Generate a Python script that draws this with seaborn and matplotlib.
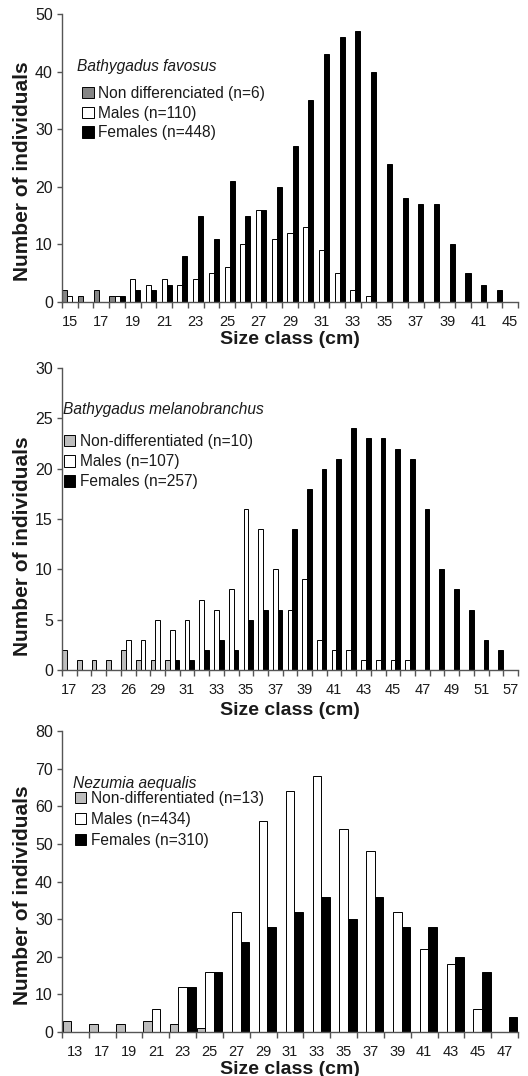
import numpy as np
import pandas as pd
import matplotlib
matplotlib.use("Agg")
import matplotlib.pyplot as plt
from matplotlib.patches import Patch
import seaborn as sns

# ---------------- data ----------------
# Panel 1: Bathygadus favosus
cats1 = [15, 16, 17, 18, 19, 20, 21, 22, 23, 24, 25, 26, 27, 28, 29, 30, 31, 32, 33, 34,
         35, 36, 37, 38, 39, 40, 41, 42, 45]
nd1 = [2, 1, 2, 1, 0, 0, 0, 0, 0, 0, 0, 0, 0, 0, 0, 0, 0, 0, 0, 0, 0, 0, 0, 0, 0, 0, 0, 0, 0]
m1 = [1, 0, 0, 1, 4, 3, 4, 3, 4, 5, 6, 10, 16, 11, 12, 13, 9, 5, 2, 1, 0, 0, 0, 0, 0, 0, 0, 0, 0]
f1 = [0, 0, 0, 1, 2, 2, 3, 8, 15, 11, 21, 15, 16, 20, 27, 35, 43, 46, 47, 40, 24, 18, 17, 17,
      10, 5, 3, 2, 0]
labels1 = ["Non differenciated (n=6)", "Males (n=110)", "Females (n=448)"]
species1 = "Bathygadus favosus"

# Panel 2: Bathygadus melanobranchus
cats2 = [17, 20, 23, 25, 26, 28, 29, 30, 31, 32, 33, 34, 35, 36, 37, 38, 39, 40, 41, 42,
         43, 44, 45, 46, 47, 48, 49, 50, 51, 52, 57]
nd2 = [2, 1, 1, 1, 2, 1, 1, 1, 0, 0, 0, 0, 0, 0, 0, 0, 0, 0, 0, 0, 0, 0, 0, 0, 0, 0, 0, 0, 0, 0, 0]
m2 = [0, 0, 0, 0, 3, 3, 5, 4, 5, 7, 6, 8, 16, 14, 10, 6, 9, 3, 2, 2, 1, 1, 1, 1, 0, 0, 0, 0, 0, 0, 0]
f2 = [0, 0, 0, 0, 0, 0, 0, 1, 1, 2, 3, 2, 5, 6, 6, 14, 18, 20, 21, 24, 23, 23, 22, 21, 16, 10,
      8, 6, 3, 2, 0]
labels2 = ["Non-differentiated (n=10)", "Males (n=107)", "Females (n=257)"]
species2 = "Bathygadus melanobranchus"

# Panel 3: Nezumia aequalis
cats3 = [13, 17, 19, 21, 23, 25, 27, 29, 31, 33, 35, 37, 39, 41, 43, 45, 47]
nd3 = [3, 2, 2, 3, 2, 1, 0, 0, 0, 0, 0, 0, 0, 0, 0, 0, 0]
m3 = [0, 0, 0, 6, 12, 16, 32, 56, 64, 68, 54, 48, 32, 22, 18, 6, 0]
f3 = [0, 0, 0, 0, 12, 16, 24, 28, 32, 36, 30, 36, 28, 28, 20, 16, 4]
labels3 = ["Non-differentiated (n=13)", "Males (n=434)", "Females (n=310)"]
species3 = "Nezumia aequalis"

# ---------------- style ----------------
sns.set_style("ticks")
plt.rcParams['font.family'] = ['Liberation Sans', 'DejaVu Sans']
AX_COL = '#555555'
TXT_COL = '#1a1a1a'

fig = plt.figure(figsize=(5.28, 10.76), dpi=100)
W, H = 528.0, 1076.0


def make_panel(px_top, px_bottom, cats, nd, m, f, labels, species, ymax, ystep,
               nd_color, label_every, species_xy, legend_xy, lspacing, xlabel_y, ylabel_y):
    left, right = 62.0, 518.0
    ax = fig.add_axes([left / W, 1 - px_bottom / H, (right - left) / W, (px_bottom - px_top) / H])
    cat_str = [str(c) for c in cats]
    df = pd.DataFrame({"cat": cat_str, labels[0]: nd, labels[1]: m, labels[2]: f})
    long = df.melt(id_vars="cat", var_name="group", value_name="n")
    long = long[long["n"] > 0]
    sns.barplot(data=long, x="cat", y="n", hue="group", order=cat_str, hue_order=labels,
                palette=[nd_color, "white", "black"], saturation=1, width=0.96,
                edgecolor="black", linewidth=0.7, errorbar=None, legend=False, ax=ax)
    n = len(cats)
    ax.set_xlim(-0.5, n - 0.5)
    ax.set_ylim(0, ymax)
    ax.set_yticks(np.arange(0, ymax + 0.1, ystep))
    ax.set_xticks(np.arange(0, n, label_every))
    ax.set_xticklabels([cat_str[i] for i in range(0, n, label_every)])
    ax.set_xticks(np.arange(-0.5, n, 1.0), minor=True)
    ax.tick_params(axis="x", which="major", length=0, pad=9, labelsize=10.5, colors=TXT_COL)
    ax.tick_params(axis="x", which="minor", length=4.5, width=1, color=AX_COL, direction="out")
    ax.tick_params(axis="y", which="major", length=3.5, width=1, color=AX_COL, pad=3,
                   labelsize=11.5, labelcolor=TXT_COL)
    for s in ["top", "right"]:
        ax.spines[s].set_visible(False)
    for s in ["left", "bottom"]:
        ax.spines[s].set_color(AX_COL)
        ax.spines[s].set_linewidth(1)
    ax.set_xlabel("Size class (cm)", fontsize=14, fontweight="bold", color=TXT_COL)
    ax.set_ylabel("Number of individuals", fontsize=15, fontweight="bold", color=TXT_COL)
    ax.xaxis.set_label_coords(0.5, xlabel_y)
    ax.yaxis.set_label_coords(-0.065, ylabel_y)
    ax.text(species_xy[0], species_xy[1], species, transform=ax.transAxes, fontsize=11.2,
            style="italic", va="center", ha="left", color=TXT_COL)
    handles = [Patch(facecolor=c, edgecolor="black", linewidth=0.7)
               for c in [nd_color, "white", "black"]]
    ax.legend(handles, labels, loc="upper left", bbox_to_anchor=legend_xy, frameon=False,
              fontsize=11.2, handlelength=0.75, handleheight=0.75, handletextpad=0.3,
              labelspacing=lspacing, borderpad=0, borderaxespad=0, labelcolor=TXT_COL)
    return ax


make_panel(14, 302, cats1, nd1, m1, f1, labels1, species1, 50, 10, "#858585", 2,
           (0.033, 0.816), (0.044, 0.750), 0.30, -0.10, 0.453)
make_panel(368, 670, cats2, nd2, m2, f2, labels2, species2, 30, 5, "#bdbdbd", 2,
           (0.002, 0.861), (0.004, 0.781), 0.33, -0.106, 0.41)
make_panel(731, 1032, cats3, nd3, m3, f3, labels3, species3, 80, 10, "#bdbdbd", 1,
           (0.024, 0.827), (0.028, 0.800), 0.38, -0.096, 0.455)

fig.savefig("out.png", dpi=100)
